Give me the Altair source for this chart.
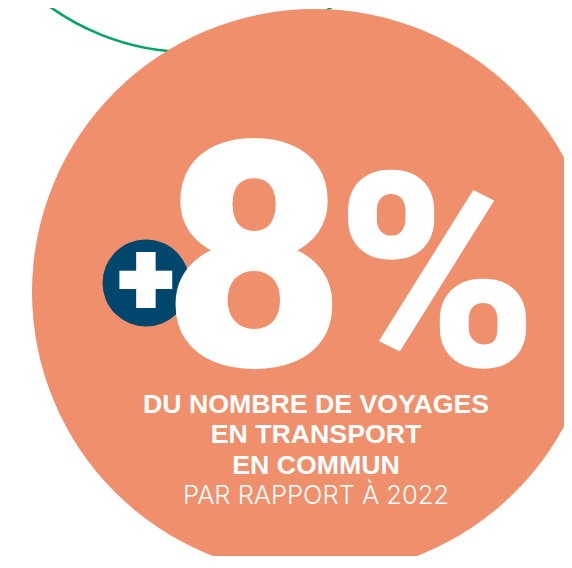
import altair as alt
import pandas as pd

# ---- content -------------------------------------------------------------
SIGN = ["+"]
VALUE = [8]
UNIT = ["%"]
LINES_BOLD = ["DU NOMBRE DE VOYAGES", "EN TRANSPORT", "EN COMMUN"]
LINE_LIGHT = ["PAR RAPPORT À 2022"]

# ---- style ---------------------------------------------------------------
# keep the drawing inside the window (page has an 8px margin)
W, H = 556, 548
OFF = 8


def px(v):
    return v - OFF


def disc(r):
    # Vega symbol size is the area of the bounding square
    return (2 * r) ** 2


SALMON = "#F08F6B"
NAVY = "#00476E"
GREEN = "#00A36B"
WHITE = "#FFFFFF"

one = pd.DataFrame({"k": [0]})

green_ring = alt.Chart(one).mark_point(
    shape="circle", filled=False, stroke=GREEN, strokeWidth=2.6,
    size=disc(242), opacity=1
).encode(x=alt.value(px(191)), y=alt.value(px(-190)))

salmon_disc = alt.Chart(one).mark_circle(
    color=SALMON, opacity=1, size=disc(283)
).encode(x=alt.value(px(315)), y=alt.value(px(292)))

navy_disc = alt.Chart(one).mark_circle(
    color=NAVY, opacity=1, size=disc(43.5)
).encode(x=alt.value(px(146)), y=alt.value(px(283)))

plus = alt.Chart(pd.DataFrame({"t": SIGN})).mark_text(
    font="Roboto", fontWeight=900, fontSize=100, color=WHITE,
    stroke=WHITE, strokeWidth=4, strokeJoin="miter",
    align="center", baseline="alphabetic"
).encode(x=alt.value(px(146)), y=alt.value(px(313)), text="t:N")

eight = alt.Chart(pd.DataFrame({"v": VALUE})).mark_text(
    font="Roboto", fontWeight=900, fontSize=316, color=WHITE,
    align="center", baseline="alphabetic"
).encode(x=alt.value(px(254)), y=alt.value(px(366)), text="v:N")

pct = alt.Chart(pd.DataFrame({"u": UNIT})).mark_text(
    font="Roboto", fontWeight=900, fontSize=272, color=WHITE,
    align="left", baseline="alphabetic"
).encode(x=alt.value(px(336)), y=alt.value(px(366)), text="u:N")

bold_y = [413, 443, 474]
bold_layers = [
    alt.Chart(pd.DataFrame({"line": [t]})).mark_text(
        font="Liberation Sans", fontWeight="bold", fontSize=26.7, color=WHITE,
        align="center", baseline="alphabetic"
    ).encode(x=alt.value(px(316)), y=alt.value(px(yy)), text="line:N")
    for t, yy in zip(LINES_BOLD, bold_y)
]

light = alt.Chart(pd.DataFrame({"line": LINE_LIGHT})).mark_text(
    font="Inter", fontWeight=300, fontSize=25.5, color=WHITE,
    align="center", baseline="alphabetic"
).encode(x=alt.value(px(316)), y=alt.value(px(504)), text="line:N")

chart = alt.layer(
    green_ring, salmon_disc, navy_disc, plus, eight, pct, *bold_layers, light
).properties(
    width=W, height=H, autosize="none", padding=0, background="white"
).configure_view(stroke=None)

chart.save("out.html", embed_options={"renderer": "svg", "actions": False})
